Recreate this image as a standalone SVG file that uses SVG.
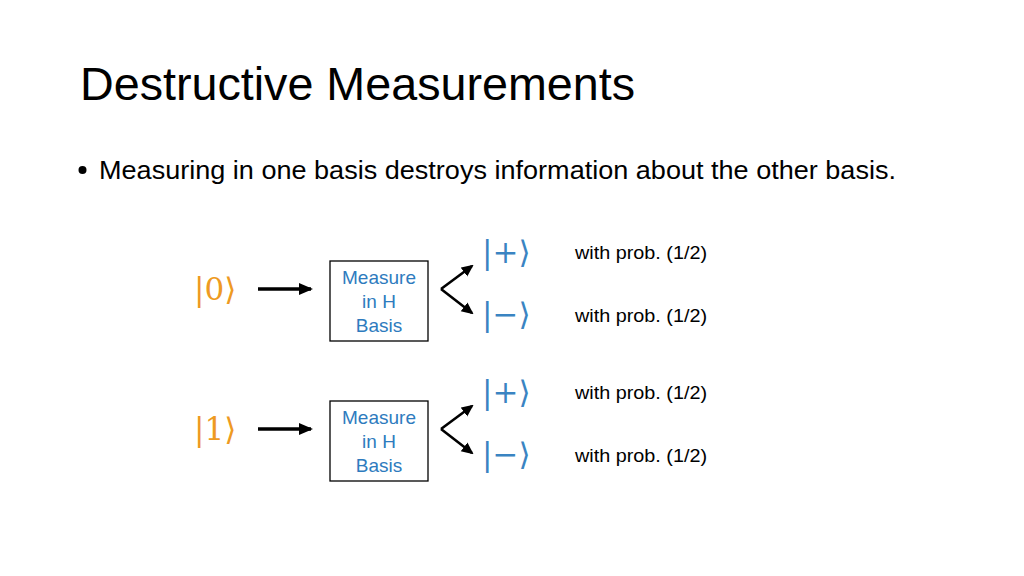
<svg xmlns="http://www.w3.org/2000/svg" width="1024" height="576" viewBox="0 0 1024 576">
<style>
.title{font-family:"Liberation Sans",Arial,sans-serif;font-size:46px;fill:#000}
.bul{font-family:"Liberation Sans",Arial,sans-serif;font-size:25.5px;fill:#000}
.box{fill:#fff;stroke:#000;stroke-width:1.3}
.bt{font-family:"Liberation Sans",Arial,sans-serif;font-size:19px;fill:#2E7BBE;text-anchor:middle}
.ket0{font-family:"DejaVu Serif",serif;font-size:31px;fill:#EE9A22}
.ketb{font-family:"DejaVu Serif",serif;font-size:31px;fill:#3A84C2}
.prob{font-family:"Liberation Sans",Arial,sans-serif;font-size:19px;fill:#000}
.thick{stroke:#000;stroke-width:3.5;fill:none}
.thin{stroke:#000;stroke-width:2.6;fill:none}
</style>
<defs>
<marker id="ah" markerWidth="12" markerHeight="12" refX="10" refY="6" orient="auto" markerUnits="userSpaceOnUse" viewBox="0 0 12 12">
<path d="M0,0.5 L12,6 L0,11.5 z" fill="#000"/>
</marker>
<marker id="ah2" markerWidth="14" markerHeight="14" refX="12" refY="7" orient="auto" markerUnits="userSpaceOnUse" viewBox="0 0 14 14">
<path d="M0,1 L14,7 L0,13 z" fill="#000"/>
</marker>
</defs>
<rect width="1024" height="576" fill="#fff"/>
<text class="title" x="80" y="100" textLength="555" lengthAdjust="spacingAndGlyphs">Destructive Measurements</text>
<circle cx="82.5" cy="170" r="4" fill="#000"/>
<text class="bul" x="99" y="179" textLength="797" lengthAdjust="spacingAndGlyphs">Measuring in one basis destroys information about the other basis.</text>

<g id="ket0"><text class="ket0" x="194" y="300">|0⟩</text></g>
<g id="box1"><rect class="box" x="330" y="261" width="98" height="80"/>
<text class="bt" x="379" y="284">Measure</text><text class="bt" x="379" y="308">in H</text><text class="bt" x="379" y="332">Basis</text></g>
<g id="plus1"><text class="ketb" x="482" y="263">|+⟩</text><text class="prob" x="575" y="259" textLength="132" lengthAdjust="spacingAndGlyphs">with prob. (1/2)</text></g>
<g id="minus1"><text class="ketb" x="482" y="325">|−⟩</text><text class="prob" x="575" y="322" textLength="132" lengthAdjust="spacingAndGlyphs">with prob. (1/2)</text></g>

<g id="ket1"><text class="ket0" x="194" y="440">|1⟩</text></g>
<g id="box2"><rect class="box" x="330" y="401" width="98" height="80"/>
<text class="bt" x="379" y="424">Measure</text><text class="bt" x="379" y="448">in H</text><text class="bt" x="379" y="472">Basis</text></g>
<g id="plus2"><text class="ketb" x="482" y="403">|+⟩</text><text class="prob" x="575" y="399" textLength="132" lengthAdjust="spacingAndGlyphs">with prob. (1/2)</text></g>
<g id="minus2"><text class="ketb" x="482" y="465">|−⟩</text><text class="prob" x="575" y="462" textLength="132" lengthAdjust="spacingAndGlyphs">with prob. (1/2)</text></g>

<g id="connectors">
<line class="thick" x1="258" y1="289" x2="311" y2="289" marker-end="url(#ah2)"/>
<line class="thin" x1="441" y1="289" x2="472" y2="266" marker-end="url(#ah)"/>
<line class="thin" x1="441" y1="289" x2="472" y2="313" marker-end="url(#ah)"/>
<line class="thick" x1="258" y1="429" x2="311" y2="429" marker-end="url(#ah2)"/>
<line class="thin" x1="441" y1="429" x2="472" y2="406" marker-end="url(#ah)"/>
<line class="thin" x1="441" y1="429" x2="472" y2="453" marker-end="url(#ah)"/>
</g>
</svg>
